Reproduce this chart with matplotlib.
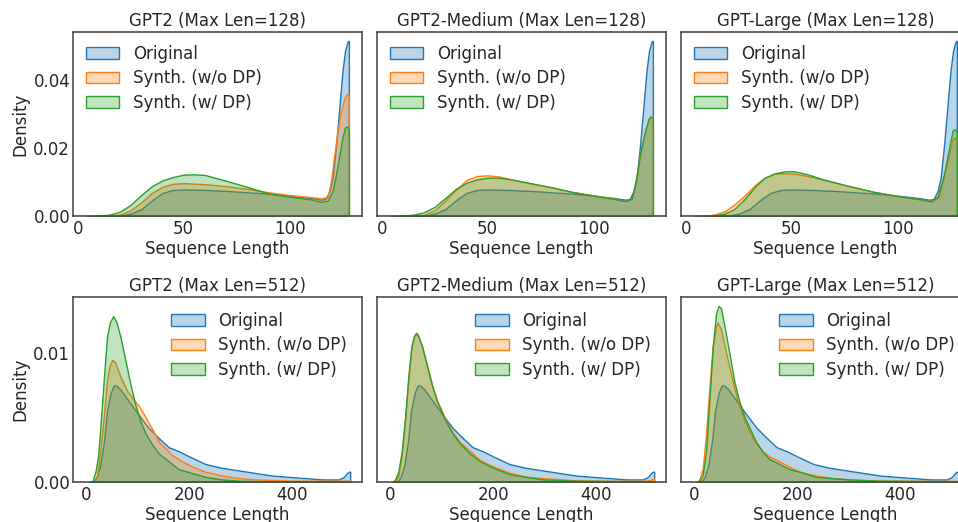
import matplotlib
matplotlib.use("Agg")
import matplotlib.pyplot as plt
from matplotlib.colors import to_rgba

# ---------------- data ----------------
# Max Len = 128 : original data (shared by the three models)
orig128_x = [4, 10, 15, 20, 25, 30, 35, 40, 45, 50, 60, 70, 80, 90, 100, 110, 115,
             117, 119, 120.4, 122, 123.5, 125, 126.2, 127.3, 128]
orig128_y = [0, 0, 0.0000, 0.0001, 0.0007, 0.0020, 0.0046, 0.0068, 0.0077, 0.0078,
             0.0077, 0.0074, 0.0070, 0.0066, 0.0060, 0.0053, 0.0048,
             0.0050, 0.0075, 0.0115, 0.0212, 0.0320, 0.0428, 0.0487, 0.0513, 0.0517]

gpt2_128_nodp_x = [8, 15, 20, 25, 30, 35, 40, 45, 50, 60, 70, 80, 90, 100, 110, 115,
                   118, 119.5, 121, 122.7, 124.3, 125.8, 127, 128]
gpt2_128_nodp_y = [0, 0.0001, 0.0004, 0.0017, 0.0040, 0.0068, 0.0086, 0.0095, 0.0097,
                   0.0094, 0.0088, 0.0080, 0.0070, 0.0062, 0.0056, 0.0052,
                   0.0056, 0.0100, 0.0174, 0.0252, 0.0311, 0.0345, 0.0360, 0.0355]
gpt2_128_dp_x = [5, 10, 15, 20, 25, 30, 35, 40, 45, 50, 55, 60, 70, 80, 90, 100, 110, 115,
                 118, 120.4, 122, 123.5, 125, 126.2, 127.3, 128]
gpt2_128_dp_y = [0, 0.0001, 0.0004, 0.0013, 0.0033, 0.0062, 0.0088, 0.0105, 0.0115,
                 0.0122, 0.0123, 0.0121, 0.0104, 0.0086, 0.0067, 0.0057, 0.0049, 0.0042,
                 0.0045, 0.0075, 0.0125, 0.0178, 0.0232, 0.0262, 0.0264, 0.0257]

med_128_nodp_x = [10, 15, 20, 25, 30, 35, 40, 45, 50, 55, 60, 70, 80, 90, 100, 110, 115,
                  118, 120, 122, 124, 126, 127, 128]
med_128_nodp_y = [0, 0.0001, 0.0003, 0.0017, 0.0045, 0.0077, 0.0106, 0.0118, 0.0120,
                  0.0117, 0.0110, 0.0097, 0.0085, 0.0071, 0.0061, 0.0051, 0.0044,
                  0.0051, 0.0105, 0.0183, 0.0242, 0.0286, 0.0293, 0.0289]
med_128_dp_x = [5, 10, 15, 20, 25, 30, 35, 40, 45, 50, 55, 60, 70, 80, 90, 100, 110, 115,
                118, 120, 122, 124, 126, 127, 128]
med_128_dp_y = [0, 0.0001, 0.0004, 0.0011, 0.0027, 0.0053, 0.0080, 0.0098, 0.0108,
                0.0113, 0.0113, 0.0109, 0.0097, 0.0085, 0.0071, 0.0060, 0.0050, 0.0044,
                0.0051, 0.0106, 0.0184, 0.0243, 0.0287, 0.0294, 0.0290]

large_128_nodp_x = [5, 10, 14, 18.5, 23, 28, 32.5, 37, 42, 47, 51, 57.6, 65, 76, 89, 100,
                    111, 116, 119.4, 121.8, 124, 126, 127.2, 128]
large_128_nodp_y = [0, 0.0001, 0.0005, 0.0014, 0.0034, 0.0061, 0.0090, 0.0112, 0.0125,
                    0.0126, 0.0125, 0.0118, 0.0107, 0.0090, 0.0071, 0.0059,
                    0.0049, 0.0044, 0.0055, 0.0115, 0.0173, 0.0227, 0.0232, 0.0225]
large_128_dp_x = [8, 14, 18.5, 23, 28, 32.5, 37, 42, 47, 51, 57.6, 65, 76, 89, 100,
                  111, 116, 119, 122, 124, 126, 127, 128]
large_128_dp_y = [0, 0.0002, 0.0007, 0.0021, 0.0051, 0.0085, 0.0112, 0.0126, 0.0132,
                  0.0132, 0.0123, 0.0108, 0.0090, 0.0071, 0.0059,
                  0.0049, 0.0043, 0.0058, 0.0125, 0.0190, 0.0252, 0.0256, 0.0250]

# Max Len = 512 : original data (shared by the three models)
orig512_x = [5, 10, 15, 20, 27, 34, 40, 47, 53, 58, 66, 82, 102, 121, 141, 160, 179,
             199, 231, 263, 296, 328, 361, 393, 425, 458, 490, 500, 506, 510, 512]
orig512_y = [0, 0, 0.0001, 0.0004, 0.0013, 0.0031, 0.0055, 0.0069, 0.0075, 0.0075,
             0.0072, 0.0063, 0.0052, 0.0042, 0.0034, 0.0027, 0.0024,
             0.0020, 0.0014, 0.0011, 0.0009, 0.0007, 0.0005, 0.0004, 0.0003, 0.0002,
             0.0002, 0.0004, 0.0007, 0.0008, 0.0008]

gpt2_512_nodp_x = [10, 15, 21, 27, 34, 40, 45, 50, 56, 66, 79, 92, 102, 114, 128, 141,
                   154, 166, 186, 205, 231, 263, 296, 328, 400, 512]
gpt2_512_nodp_y = [0, 0.0000, 0.0005, 0.0024, 0.0052, 0.0079, 0.0090, 0.0095, 0.0093,
                   0.0082, 0.0071, 0.0064, 0.0059, 0.0051, 0.0041, 0.0031,
                   0.0026, 0.0021, 0.0016, 0.0012, 0.0008, 0.0005, 0.0003, 0.0002,
                   0.0001, 0.0001]
gpt2_512_dp_x = [8, 12, 17.6, 23, 27, 34, 40, 45.5, 52, 58.5, 66, 76, 85.5, 95, 105,
                 114.6, 128, 141, 160, 179, 205, 231, 263, 296, 361, 512]
gpt2_512_dp_y = [0, 0.0001, 0.0008, 0.0021, 0.0042, 0.0081, 0.0113, 0.0124, 0.0129,
                 0.0124, 0.0113, 0.0094, 0.0076, 0.0060, 0.0047, 0.0038, 0.0029,
                 0.0022, 0.0016, 0.0010, 0.0007, 0.0004, 0.0002, 0.0001, 0.00005,
                 0.00003]

med_512_nodp_x = [5, 9, 15.5, 22, 28.4, 35, 41, 46, 50, 54, 61, 70.5, 80, 90, 100, 109,
                  122, 135, 155, 174, 200, 232, 265, 297, 360, 425, 491, 505, 512]
med_512_nodp_y = [0, 0.0001, 0.0005, 0.0021, 0.0047, 0.0081, 0.0105, 0.0113, 0.0115,
                  0.0113, 0.0106, 0.0092, 0.0077, 0.0064, 0.0055, 0.0047, 0.0038,
                  0.0031, 0.0024, 0.0017, 0.0012, 0.0007, 0.0004, 0.0003, 0.00013,
                  0.00008, 0.0001, 0.00015, 0.0003]
med_512_dp_x = [5, 9, 15.5, 22, 28.4, 35, 41, 46, 50, 54, 61, 70.5, 80, 90, 100, 109,
                122, 135, 155, 174, 200, 232, 265, 297, 360, 512]
med_512_dp_y = [0, 0.0002, 0.0008, 0.0024, 0.0050, 0.0083, 0.0106, 0.0114, 0.0116,
                0.0114, 0.0106, 0.0091, 0.0076, 0.0063, 0.0054, 0.0046, 0.0037,
                0.0030, 0.0022, 0.0016, 0.0011, 0.0006, 0.0004, 0.0002, 0.0001,
                0.00005]

large_512_nodp_x = [5, 9.6, 16, 22.6, 29, 35.5, 42, 45, 51.7, 58, 68, 77.6, 87, 97, 107,
                    120, 132, 145, 165, 184, 204, 236, 268, 301, 360, 512]
large_512_nodp_y = [0, 0.0002, 0.0010, 0.0037, 0.0073, 0.0105, 0.0121, 0.0124, 0.0119,
                    0.0107, 0.0089, 0.0073, 0.0059, 0.0048, 0.0039, 0.0030, 0.0024,
                    0.0020, 0.0016, 0.0012, 0.0008, 0.0005, 0.0003, 0.0002, 0.0001,
                    0.00008]
large_512_dp_x = [5, 9.6, 16, 22.6, 29, 35.5, 42, 47, 51.7, 58, 68, 77.6, 87, 97, 107,
                  120, 132, 145, 165, 184, 204, 236, 268, 301, 360, 512]
large_512_dp_y = [0, 0.0001, 0.0005, 0.0024, 0.0063, 0.0105, 0.0131, 0.0137, 0.0135,
                  0.0122, 0.0100, 0.0078, 0.0063, 0.0051, 0.0042, 0.0031, 0.0024,
                  0.0018, 0.0014, 0.0010, 0.0008, 0.0004, 0.0003, 0.0002, 0.0001,
                  0.00005]

titles = ["GPT2 (Max Len=128)", "GPT2-Medium (Max Len=128)", "GPT-Large (Max Len=128)",
          "GPT2 (Max Len=512)", "GPT2-Medium (Max Len=512)", "GPT-Large (Max Len=512)"]
series_labels = ["Original", "Synth. (w/o DP)", "Synth. (w/ DP)"]
xticks_128 = [0, 50, 100]
xticks_512 = [0, 200, 400]
yticks_128 = [0.00, 0.02, 0.04]
yticks_512 = [0.00, 0.01]

# ---------------- drawing ----------------
plt.rcParams['font.family'] = ['DejaVu Sans']
plt.rcParams['font.size'] = 12
TEXT = '#262626'
plt.rcParams['text.color'] = TEXT
plt.rcParams['axes.labelcolor'] = TEXT
plt.rcParams['xtick.color'] = TEXT
plt.rcParams['ytick.color'] = TEXT

colors = ['#1f77b4', '#ff7f0e', '#2ca02c']

W, H = 958, 522
fig = plt.figure(figsize=(W / 100, H / 100), dpi=100)

lefts = [73, 377, 681]
aw = 289
rows = [(32, 216), (297, 482)]

panels = [
    [(orig128_x, orig128_y), (gpt2_128_nodp_x, gpt2_128_nodp_y), (gpt2_128_dp_x, gpt2_128_dp_y)],
    [(orig128_x, orig128_y), (med_128_nodp_x, med_128_nodp_y), (med_128_dp_x, med_128_dp_y)],
    [(orig128_x, orig128_y), (large_128_nodp_x, large_128_nodp_y), (large_128_dp_x, large_128_dp_y)],
    [(orig512_x, orig512_y), (gpt2_512_nodp_x, gpt2_512_nodp_y), (gpt2_512_dp_x, gpt2_512_dp_y)],
    [(orig512_x, orig512_y), (med_512_nodp_x, med_512_nodp_y), (med_512_dp_x, med_512_dp_y)],
    [(orig512_x, orig512_y), (large_512_nodp_x, large_512_nodp_y), (large_512_dp_x, large_512_dp_y)],
]

row_max = []
for r in range(2):
    m = 0
    for p in panels[r * 3:(r + 1) * 3]:
        for xs, ys in p:
            m = max(m, max(ys))
    row_max.append(m)

for i, p in enumerate(panels):
    r, c = divmod(i, 3)
    top, bot = rows[r]
    ax = fig.add_axes([lefts[c] / W, 1 - bot / H, aw / W, (bot - top) / H])
    handles = []
    for (xs, ys), col, lab in zip(p, colors, series_labels):
        h = ax.fill_between(xs, 0, ys, facecolor=to_rgba(col, 0.3),
                            edgecolor=col, linewidth=1.0, label=lab)
        handles.append(h)
    if r == 0:
        ax.set_xlim(-2.2, 134.2)
        ax.set_xticks(xticks_128)
        ax.set_yticks(yticks_128)
        loc = 'upper left'
        bap = 0.38
    else:
        ax.set_xlim(-26, 535)
        ax.set_xticks(xticks_512)
        ax.set_yticks(yticks_512)
        loc = 'upper right'
        bap = 0.5
    ax.set_ylim(0, row_max[r] * 1.05)
    ax.set_xticklabels([str(t) for t in ax.get_xticks()])
    if c == 0:
        ax.set_yticklabels(["%.2f" % t for t in ax.get_yticks()])
        ax.set_ylabel("Density", labelpad=3)
    else:
        ax.set_yticklabels([])
    ax.tick_params(axis='both', length=0, labelsize=12)
    ax.tick_params(axis='x', pad=3)
    ax.tick_params(axis='y', pad=2)
    ax.set_xlabel("Sequence Length", labelpad=1)
    ax.set_title(titles[i], fontsize=12, pad=4)
    for s in ax.spines.values():
        s.set_color('.3')
        s.set_linewidth(1.2)
    ax.legend(handles=handles, loc=loc, frameon=False, fontsize=12,
              labelspacing=0.38, borderaxespad=bap)

fig.savefig("out.png", dpi=100)
